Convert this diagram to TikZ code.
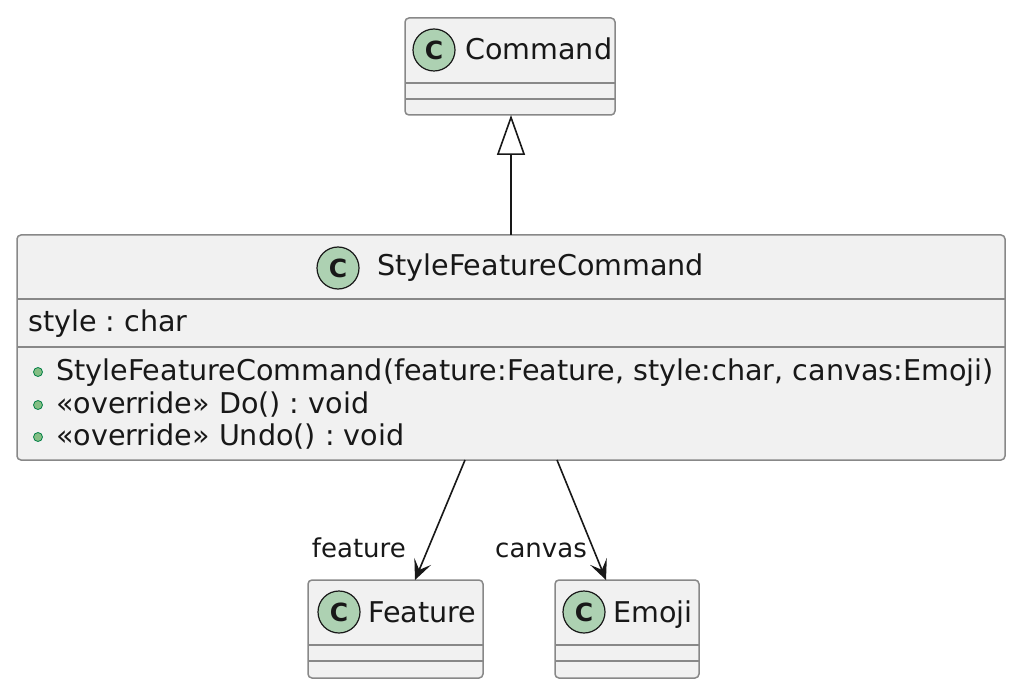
\documentclass[tikz,border=0pt]{standalone}
\usepackage{fontspec}
\setmainfont{DejaVu Sans}
\usetikzlibrary{arrows.meta}
\frenchspacing
\definecolor{boxfill}{HTML}{F1F1F1}
\definecolor{boxline}{HTML}{888888}
\definecolor{circfill}{HTML}{ADD1B2}
\definecolor{ink}{HTML}{181818}
\definecolor{dotfill}{HTML}{84BE84}
\definecolor{dotline}{HTML}{038048}
\tikzset{
  box/.style={draw=boxline, fill=boxfill, line width=1.5pt, rounded corners=4pt, inner sep=0pt, outer sep=0pt, anchor=north west},
  div/.style={draw=boxline, line width=1.5pt},
  cls/.style={circle, draw=ink, fill=circfill, line width=1.2pt, minimum size=42pt, inner sep=0pt, font=\fontsize{25}{25}\selectfont\bfseries, text=ink},
  txt/.style={inner sep=0pt, font=\fontsize{28.6}{30}\selectfont, text=ink, anchor=base west},
  lbl/.style={inner sep=0pt, font=\fontsize{26}{28}\selectfont, text=ink, anchor=base east},
  vis/.style={circle, draw=dotline, fill=dotfill, line width=0.8pt, minimum size=9pt, inner sep=0pt},
  assoc/.style={draw=ink, line width=1.6pt, -{Stealth[length=20pt,width=18pt,inset=9pt]}},
  inherit/.style={draw=ink, line width=1.6pt, -{Triangle[open,length=40pt,width=28pt,fill=white]}},
}
\begin{document}
\begin{tikzpicture}[x=1pt,y=-1pt]
\useasboundingbox (0,0) rectangle (1024,692);
% Command
\node[box, minimum width=210pt, minimum height=97pt] (cmd) at (405,18) {};
\draw[div] (405,83) -- (615,83);
\draw[div] (405,99) -- (615,99);
\node[cls] (cmdc) at (434,50) {C};
\node[txt] (cmdt) at (465,60) {Command};
% StyleFeatureCommand
\node[box, minimum width=988pt, minimum height=225pt] (sfc) at (17,235) {};
\draw[div] (17,299) -- (1005,299);
\draw[div] (17,347) -- (1005,347);
\node[cls] (sfcc) at (338,268) {C};
\node[txt] (sfct) at (377,276) {StyleFeatureCommand};
\node[txt] (attr) at (28,331) {style : char};
\node[vis] (d1) at (38,372) {};
\node[vis] (d2) at (38,405) {};
\node[vis] (d3) at (38,437) {};
\node[txt] (m1) at (56,380) {StyleFeatureCommand(feature:Feature, style:char, canvas:Emoji)};
\node[txt] (m2) at (56,413) {«override» Do() : void};
\node[txt] (m3) at (56,445) {«override» Undo() : void};
% Feature
\node[box, minimum width=175pt, minimum height=98pt] (feat) at (308,580) {};
\draw[div] (308,645) -- (483,645);
\draw[div] (308,661) -- (483,661);
\node[cls] (featc) at (339,612) {C};
\node[txt] (featt) at (368,622) {Feature};
% Emoji
\node[box, minimum width=144pt, minimum height=98pt] (emo) at (555,580) {};
\draw[div] (555,645) -- (699,645);
\draw[div] (555,661) -- (699,661);
\node[cls] (emoc) at (584,612) {C};
\node[txt] (emot) at (613,622) {Emoji};
% connectors
\draw[inherit] (sfc.north) -- (sfc.north |- cmd.south);
\draw[assoc] ([xshift=448pt]sfc.south west) -- ([xshift=107pt]feat.north west);
\draw[assoc] ([xshift=540pt]sfc.south west) -- ([xshift=51pt]emo.north west);
\node[lbl] (lf) at (406,557) {feature};
\node[lbl] (lc) at (587,557) {canvas};
\end{tikzpicture}
\end{document}
